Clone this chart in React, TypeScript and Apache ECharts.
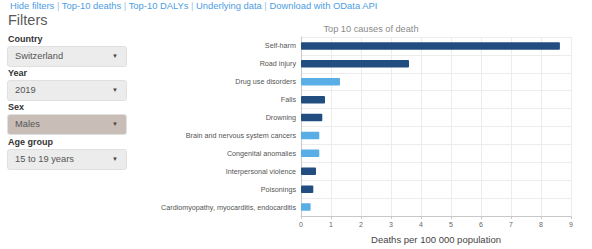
import React, { useEffect, useRef } from "react";
import * as echarts from "echarts";

const causes = [
  "Self-harm",
  "Road injury",
  "Drug use disorders",
  "Falls",
  "Drowning",
  "Brain and nervous system cancers",
  "Congenital anomalies",
  "Interpersonal violence",
  "Poisonings",
  "Cardiomyopathy, myocarditis, endocarditis",
];
const deathRates = [8.63, 3.6, 1.3, 0.8, 0.71, 0.61, 0.61, 0.5, 0.41, 0.32];
// 1 = injury (dark), 0 = noncommunicable (light)
const causeGroup = [1, 1, 0, 1, 1, 0, 0, 1, 1, 0];
const xTicks = [0, 1, 2, 3, 4, 5, 6, 7, 8, 9];

const links = ["Hide filters", "Top-10 deaths", "Top-10 DALYs", "Underlying data", "Download with OData API"];
const filters = [
  { label: "Country", value: "Switzerland", top: 46, bg: "#ececec" },
  { label: "Year", value: "2019", top: 80, bg: "#ececec" },
  { label: "Sex", value: "Males", top: 114, bg: "#c9bdb8" },
  { label: "Age group", value: "15 to 19 years", top: 149, bg: "#ececec" },
];

const FONT = "'Liberation Sans', Arial, Helvetica, sans-serif";

export default function App() {
  const ref = useRef<HTMLDivElement>(null);
  useEffect(() => {
    document.body.style.margin = "0";
    const chart = echarts.init(ref.current!, null, { renderer: "svg" });
    chart.setOption({
      animation: false,
      textStyle: { fontFamily: FONT },
      title: {
        text: "Top 10 causes of death",
        left: "center",
        top: 19,
        textStyle: { fontSize: 9.2, fontWeight: "normal", color: "#8a8a8a", fontFamily: FONT },
      },
      grid: { left: 151, right: 21, top: 37, bottom: 30 },
      xAxis: {
        type: "value",
        min: xTicks[0],
        max: xTicks[xTicks.length - 1],
        interval: 1,
        name: "Deaths per 100 000 population",
        nameLocation: "middle",
        nameGap: 18,
        nameTextStyle: { fontSize: 9.5, color: "#444", fontFamily: FONT },
        axisLine: { show: true, lineStyle: { color: "#c8c8c8" } },
        axisTick: { show: true, length: 3, lineStyle: { color: "#c8c8c8" } },
        axisLabel: { fontSize: 7, color: "#666", margin: 5 },
        splitLine: { show: true, lineStyle: { color: "#ececec" } },
      },
      yAxis: {
        type: "category",
        data: causes,
        inverse: true,
        axisLine: { show: true, lineStyle: { color: "#c8c8c8" } },
        axisTick: { show: false },
        axisLabel: { fontSize: 7.2, color: "#555", margin: 5 },
        splitLine: { show: true, lineStyle: { color: "#ececec" } },
      },
      series: [
        {
          type: "bar",
          barWidth: 7.5,
          data: deathRates.map((v, i) => ({
            value: v,
            itemStyle: {
              color: causeGroup[i] ? "#224d80" : "#5aaee6",
              borderRadius: 1,
            },
          })),
        },
      ],
    });
    return () => chart.dispose();
  }, []);

  return (
    <div style={{ position: "absolute", left: 0, top: 0, width: 592, height: 249, background: "#fff", fontFamily: FONT, overflow: "hidden" }}>
      <div style={{ position: "absolute", left: 10, top: 0, fontSize: 9.4, lineHeight: "11px", color: "#4d9de2", whiteSpace: "nowrap" }}>
        {links.map((l, i) => (
          <span key={l}>
            {i > 0 && <span style={{ color: "#9ac4ea" }}> | </span>}
            {l}
          </span>
        ))}
      </div>
      <div style={{ position: "absolute", left: 8, top: 12, fontSize: 14.5, lineHeight: "17px", color: "#5a5a5a" }}>Filters</div>
      {filters.map((f) => (
        <React.Fragment key={f.label}>
          <div style={{ position: "absolute", left: 8, top: f.top - 12, fontSize: 9, lineHeight: "11px", fontWeight: "bold", color: "#333" }}>{f.label}</div>
          <div
            style={{
              position: "absolute",
              left: 7,
              top: f.top,
              width: 120,
              height: 21,
              boxSizing: "border-box",
              background: f.bg,
              border: "1px solid #e0e0e0",
              borderRadius: 3,
              fontSize: 9.3,
              lineHeight: "19px",
              color: "#555",
              paddingLeft: 7,
            }}
          >
            {f.value}
            <span style={{ position: "absolute", right: 8, top: 0, fontSize: 6, color: "#444" }}>▼</span>
          </div>
        </React.Fragment>
      ))}
      <div ref={ref} style={{ position: "absolute", left: 150, top: 0, width: 442, height: 249 }} />
    </div>
  );
}
